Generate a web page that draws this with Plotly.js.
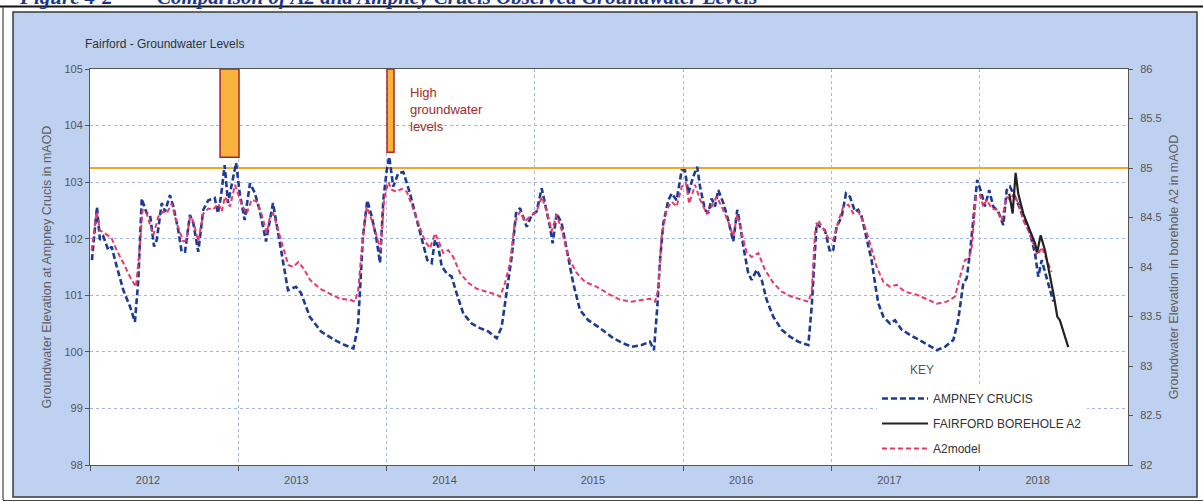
<!DOCTYPE html>
<html><head><meta charset="utf-8">
<script src="https://cdn.plot.ly/plotly-3.0.1.min.js"></script>
<style>html,body{margin:0;padding:0;background:#fff}#chart{width:1203px;height:502px}</style>
</head><body><div id="chart"></div>
<script>
// ---- data (decimal years) ----
const yearTicks = [2012, 2013, 2014, 2015, 2016, 2017, 2018];
const yearLabels = ['2012', '2013', '2014', '2015', '2016', '2017', '2018'];
const leftTicks = [98, 99, 100, 101, 102, 103, 104, 105];
const rightTicks = [82, 82.5, 83, 83.5, 84, 84.5, 85, 85.5, 86];

const ampneyYears = [2012.013,2012.047,2012.067,2012.090,2012.123,2012.146,2012.180,2012.225,2012.270,2012.303,2012.326,2012.349,2012.382,2012.405,2012.432,2012.450,2012.484,2012.506,2012.539,2012.562,2012.595,2012.618,2012.641,2012.674,2012.697,2012.730,2012.764,2012.798,2012.841,2012.863,2012.883,2012.897,2012.908,2012.931,2012.985,2013.010,2013.043,2013.079,2013.111,2013.144,2013.187,2013.234,2013.254,2013.288,2013.335,2013.389,2013.423,2013.482,2013.558,2013.650,2013.718,2013.776,2013.807,2013.841,2013.870,2013.900,2013.929,2013.956,2013.978,2014.001,2014.018,2014.045,2014.079,2014.113,2014.136,2014.158,2014.192,2014.237,2014.275,2014.304,2014.327,2014.349,2014.372,2014.405,2014.439,2014.473,2014.517,2014.574,2014.630,2014.686,2014.743,2014.776,2014.810,2014.844,2014.873,2014.900,2014.945,2014.979,2015.012,2015.046,2015.068,2015.102,2015.120,2015.147,2015.181,2015.215,2015.259,2015.304,2015.360,2015.439,2015.529,2015.596,2015.653,2015.720,2015.776,2015.803,2015.826,2015.844,2015.866,2015.900,2015.923,2015.956,2015.990,2016.012,2016.035,2016.068,2016.095,2016.114,2016.147,2016.170,2016.192,2016.215,2016.237,2016.271,2016.304,2016.338,2016.365,2016.383,2016.406,2016.439,2016.462,2016.496,2016.530,2016.563,2016.608,2016.665,2016.720,2016.776,2016.844,2016.867,2016.889,2016.900,2016.923,2016.956,2016.990,2017.012,2017.035,2017.069,2017.098,2017.125,2017.159,2017.181,2017.204,2017.238,2017.271,2017.294,2017.316,2017.350,2017.395,2017.429,2017.474,2017.530,2017.597,2017.653,2017.710,2017.766,2017.822,2017.855,2017.889,2017.912,2017.934,2017.961,2017.983,2018.013,2018.035,2018.064,2018.091,2018.125,2018.159,2018.182,2018.204,2018.249,2018.294,2018.339,2018.373,2018.395,2018.418,2018.451,2018.474,2018.496];
const ampneyLevels = [101.62,102.56,101.98,102.04,101.80,101.86,101.51,101.09,100.80,100.53,101.27,102.71,102.45,102.42,101.86,101.98,102.63,102.48,102.77,102.57,102.15,101.77,101.77,102.42,102.27,101.77,102.51,102.68,102.72,102.45,102.74,103.13,103.30,102.63,103.34,102.80,102.33,102.98,102.81,102.51,101.95,102.63,102.33,101.80,101.09,101.15,101.04,100.62,100.36,100.21,100.12,100.06,100.44,102.04,102.68,102.39,102.04,101.57,102.68,103.21,103.45,102.92,103.16,103.18,102.98,102.80,102.45,101.98,101.62,101.57,101.98,101.86,101.51,101.39,101.33,101.03,100.68,100.50,100.42,100.36,100.24,100.44,101.03,101.68,102.45,102.54,102.21,102.42,102.48,102.89,102.63,102.21,101.92,102.45,102.27,101.80,101.21,100.74,100.56,100.42,100.24,100.15,100.09,100.12,100.18,100.03,100.80,101.62,102.27,102.68,102.80,102.68,103.21,103.21,102.80,103.10,103.27,102.92,102.51,102.45,102.71,102.57,102.86,102.63,102.33,101.95,102.51,102.27,101.86,101.39,101.27,101.45,101.27,100.92,100.62,100.39,100.27,100.18,100.12,100.80,101.80,102.27,102.21,102.15,101.77,101.80,102.21,102.39,102.80,102.74,102.48,102.51,102.39,101.98,101.62,101.21,100.86,100.62,100.50,100.56,100.39,100.30,100.21,100.12,100.03,100.09,100.21,100.56,101.21,101.30,101.74,102.51,103.04,102.80,102.57,102.86,102.57,102.48,102.24,102.86,102.92,102.68,102.39,102.10,101.74,101.33,101.62,101.33,101.09,100.89];

const a2ModelYears = [2012.011,2012.045,2012.067,2012.101,2012.146,2012.180,2012.225,2012.270,2012.310,2012.332,2012.355,2012.382,2012.427,2012.461,2012.494,2012.517,2012.551,2012.585,2012.629,2012.652,2012.674,2012.697,2012.730,2012.764,2012.798,2012.831,2012.865,2012.888,2012.910,2012.944,2012.978,2013.000,2013.023,2013.057,2013.090,2013.124,2013.158,2013.192,2013.214,2013.236,2013.270,2013.304,2013.337,2013.371,2013.405,2013.438,2013.484,2013.551,2013.618,2013.686,2013.753,2013.787,2013.809,2013.832,2013.866,2013.900,2013.933,2013.960,2013.983,2014.012,2014.034,2014.068,2014.102,2014.136,2014.169,2014.214,2014.259,2014.293,2014.327,2014.349,2014.383,2014.416,2014.450,2014.495,2014.551,2014.608,2014.675,2014.743,2014.765,2014.799,2014.832,2014.866,2014.900,2014.933,2014.967,2015.012,2015.046,2015.075,2015.113,2015.147,2015.181,2015.225,2015.282,2015.338,2015.417,2015.495,2015.574,2015.653,2015.731,2015.776,2015.810,2015.832,2015.855,2015.889,2015.923,2015.956,2015.990,2016.019,2016.041,2016.080,2016.114,2016.159,2016.192,2016.226,2016.260,2016.304,2016.338,2016.365,2016.395,2016.428,2016.462,2016.507,2016.552,2016.608,2016.665,2016.732,2016.799,2016.844,2016.867,2016.889,2016.911,2016.945,2016.979,2017.012,2017.046,2017.080,2017.114,2017.147,2017.181,2017.215,2017.260,2017.305,2017.350,2017.395,2017.440,2017.496,2017.575,2017.653,2017.710,2017.777,2017.833,2017.867,2017.901,2017.928,2017.946,2017.975,2018.002,2018.024,2018.047,2018.081,2018.114,2018.148,2018.182,2018.204,2018.231,2018.260,2018.294,2018.327,2018.361,2018.391,2018.418,2018.451,2018.485];
const a2ModelLevels = [84.17,84.56,84.37,84.34,84.29,84.17,84.04,83.90,83.80,84.14,84.58,84.54,84.32,84.51,84.56,84.54,84.64,84.44,84.26,84.27,84.51,84.46,84.26,84.54,84.59,84.58,84.64,84.56,84.71,84.61,84.83,84.74,84.63,84.54,84.68,84.66,84.53,84.34,84.51,84.54,84.37,84.20,84.02,84.00,84.05,83.99,83.87,83.78,83.73,83.68,83.67,83.65,83.77,84.17,84.61,84.47,84.31,84.17,84.68,84.86,84.78,84.76,84.79,84.76,84.63,84.44,84.26,84.19,84.34,84.27,84.14,84.17,84.10,83.94,83.84,83.78,83.75,83.72,83.70,83.84,84.04,84.46,84.56,84.46,84.51,84.56,84.71,84.59,84.36,84.53,84.37,84.10,83.94,83.85,83.80,83.73,83.67,83.65,83.67,83.68,83.65,83.77,84.31,84.58,84.66,84.61,84.81,84.85,84.64,84.83,84.68,84.54,84.61,84.71,84.61,84.46,84.31,84.53,84.34,84.15,84.10,84.14,83.97,83.84,83.75,83.70,83.67,83.65,83.75,84.34,84.47,84.39,84.29,84.27,84.46,84.61,84.63,84.54,84.56,84.46,84.24,84.00,83.85,83.80,83.82,83.75,83.72,83.67,83.63,83.65,83.70,83.90,84.07,84.09,84.20,84.71,84.73,84.61,84.68,84.59,84.58,84.47,84.71,84.68,84.74,84.64,84.47,84.37,84.24,84.12,84.20,84.07,83.95];

const a2BoreholeYears = [2018.199,2018.222,2018.242,2018.260,2018.294,2018.339,2018.373,2018.388,2018.411,2018.440,2018.474,2018.501,2018.523,2018.541,2018.597];
const a2BoreholeLevels = [84.74,84.54,84.95,84.74,84.54,84.37,84.24,84.15,84.32,84.17,83.92,83.70,83.50,83.46,83.19];

const highPeriodStart = [2012.877, 2014.003];
const highPeriodEnd = [2013.005, 2014.050];
const highPeriodBottom = [103.44, 103.53];
const highThresholdA2 = 85;

if (ampneyYears.length !== ampneyLevels.length) throw new Error('ampney length mismatch ' + ampneyYears.length + ' ' + ampneyLevels.length);
if (a2ModelYears.length !== a2ModelLevels.length) throw new Error('model length mismatch ' + a2ModelYears.length + ' ' + a2ModelLevels.length);

const FONT = 'Liberation Sans, Arial, sans-serif';
const GRID = '#a3b5e3';
const AXIS = '#555';

const traces = [
  {x: ampneyYears, y: ampneyLevels, yaxis: 'y', type: 'scatter', mode: 'lines', name: 'AMPNEY CRUCIS',
   line: {color: '#1d3a94', width: 2.6, dash: '6px,3px'}, legendgroup: 'a', legendrank: 1},
  {x: a2ModelYears, y: a2ModelLevels, yaxis: 'y2', type: 'scatter', mode: 'lines', name: 'A2model',
   line: {color: '#e83a68', width: 2, dash: '5px,3px'}, legendgroup: 'c', legendrank: 3},
  {x: a2BoreholeYears, y: a2BoreholeLevels, yaxis: 'y2', type: 'scatter', mode: 'lines', name: 'FAIRFORD BOREHOLE A2',
   line: {color: '#222', width: 2.2}, legendgroup: 'b', legendrank: 2}
];

// pixel helpers for page decoration (frame around chart)
const L = 90, T = 69, W = 1038, H = 396;
const px = v => (v - L) / W;
const py = v => (T + H - v) / H;

const shapes = [
  {type: 'rect', xref: 'paper', yref: 'paper', x0: -0.2, x1: 1.2, y0: py(12), y1: 1.3, fillcolor: '#fff', line: {width: 0}, layer: 'below'},
  {type: 'rect', xref: 'paper', yref: 'paper', x0: -0.2, x1: px(13), y0: -0.2, y1: 1.3, fillcolor: '#fff', line: {width: 0}, layer: 'below'},
  {type: 'rect', xref: 'paper', yref: 'paper', x0: px(1197), x1: 1.2, y0: -0.2, y1: 1.3, fillcolor: '#fff', line: {width: 0}, layer: 'below'},
  {type: 'rect', xref: 'paper', yref: 'paper', x0: -0.2, x1: 1.2, y0: -0.2, y1: py(497), fillcolor: '#fff', line: {width: 0}, layer: 'below'},
  {type: 'rect', xref: 'paper', yref: 'paper', x0: px(13), x1: px(1197), y0: py(497), y1: py(12), line: {color: '#3a3a3a', width: 1.5}},
  {type: 'line', xref: 'paper', yref: 'paper', x0: px(0), x1: px(1203), y0: py(6.5), y1: py(6.5), line: {color: '#111', width: 1.8}},
  {type: 'line', xref: 'paper', yref: 'paper', x0: px(3), x1: px(3), y0: py(6.5), y1: py(500), line: {color: '#444', width: 1.2}},
  {type: 'line', xref: 'paper', yref: 'paper', x0: px(3), x1: px(1203), y0: py(500.5), y1: py(500.5), line: {color: '#444', width: 1.2}},
  {type: 'line', xref: 'paper', yref: 'y2', x0: 0, x1: 1, y0: highThresholdA2, y1: highThresholdA2, line: {color: '#f2a72a', width: 2}, layer: 'below'}
];
for (let i = 0; i < highPeriodStart.length; i++) {
  shapes.push({type: 'rect', xref: 'x', yref: 'y', x0: highPeriodStart[i], x1: highPeriodEnd[i], y0: highPeriodBottom[i], y1: 105,
    fillcolor: '#f8b33e', line: {color: '#a8262a', width: 1.5}});
}

const layout = {
  width: 1203, height: 502,
  margin: {l: L, r: 1203 - L - W, t: T, b: 502 - T - H, pad: 0},
  paper_bgcolor: '#bfd1f1',
  plot_bgcolor: '#ffffff',
  font: {family: FONT, size: 11, color: '#555'},
  showlegend: true,
  xaxis: {
    range: [2012, 2019], tickmode: 'array', tickvals: yearTicks, ticktext: yearLabels,
    ticklabelshift: 58, ticks: 'outside', ticklen: 5, tickcolor: AXIS,
    showgrid: true, gridcolor: GRID, griddash: 'dot', gridwidth: 1,
    showline: true, linecolor: AXIS, linewidth: 1, mirror: true, zeroline: false,
    tickfont: {size: 11, color: '#555'}
  },
  yaxis: {
    range: [98, 105], tickmode: 'array', tickvals: leftTicks, ticks: 'outside', ticklen: 4, tickcolor: AXIS,
    showgrid: true, gridcolor: GRID, griddash: 'dot', gridwidth: 1,
    showline: true, linecolor: AXIS, zeroline: false,
    tickfont: {size: 11, color: '#555'},
    title: {text: 'Groundwater Elevation at Ampney Crucis in mAOD', font: {size: 12.5, color: '#5e5e5e'}, standoff: 10}
  },
  yaxis2: {
    range: [82, 86], tickmode: 'array', tickvals: rightTicks, overlaying: 'y', side: 'right',
    ticks: 'outside', ticklen: 4, tickcolor: AXIS, showgrid: false, zeroline: false,
    showline: true, linecolor: AXIS, ticklabelstandoff: 5,
    tickfont: {size: 11, color: '#555'},
    title: {text: 'Groundwater Elevation in borehole A2 in mAOD', font: {size: 12.5, color: '#5e5e5e'}, standoff: 8}
  },
  legend: {
    x: px(877), xanchor: 'left', y: py(384), yanchor: 'top',
    bgcolor: '#ffffff', borderwidth: 0, traceorder: 'grouped', tracegroupgap: 6,
    font: {family: FONT, size: 12, color: '#333'}, itemwidth: 46
  },
  shapes: shapes,
  annotations: [
    {xref: 'paper', yref: 'paper', x: px(17), y: py(-3), xanchor: 'left', yanchor: 'middle', showarrow: false,
     text: '<b><i>Figure 4-2  —</i></b>', font: {family: 'Liberation Serif, Times New Roman, serif', size: 21, color: '#1d3590'}},
    {xref: 'paper', yref: 'paper', x: px(155), y: py(-3), xanchor: 'left', yanchor: 'middle', showarrow: false,
     text: '<b><i>Comparison of A2 and Ampney Crucis Observed Groundwater Levels</i></b>', font: {family: 'Liberation Serif, Times New Roman, serif', size: 21, color: '#1d3590'}},
    {xref: 'paper', yref: 'paper', x: px(83), y: py(44), xanchor: 'left', yanchor: 'middle', showarrow: false,
     text: 'Fairford - Groundwater Levels', font: {family: FONT, size: 12, color: '#333'}},
    {xref: 'paper', yref: 'paper', x: px(408), y: py(110), xanchor: 'left', yanchor: 'middle', showarrow: false, align: 'left',
     text: 'High<br>groundwater<br>levels', font: {family: FONT, size: 13, color: '#a22a2a'}},
    {xref: 'paper', yref: 'paper', x: px(922), y: py(370), xanchor: 'center', yanchor: 'middle', showarrow: false,
     text: 'KEY', font: {family: FONT, size: 12, color: '#555'}}
  ]
};

Plotly.newPlot('chart', traces, layout, {displayModeBar: false, staticPlot: true});
</script>
</body></html>
